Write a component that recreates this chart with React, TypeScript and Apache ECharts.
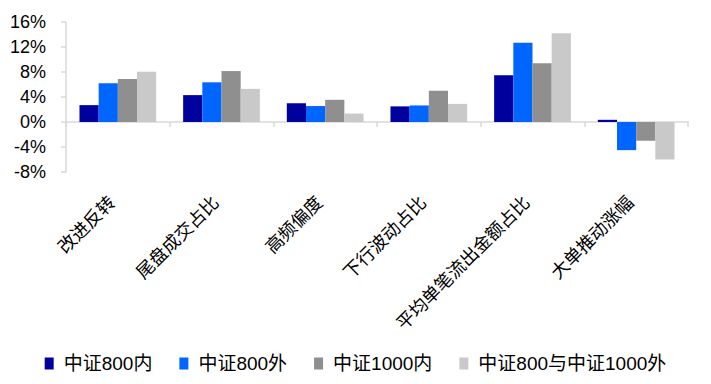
import React, { useEffect, useRef } from "react";
import * as echarts from "echarts";

const categories = ["改进反转", "尾盘成交占比", "高频偏度", "下行波动占比", "平均单笔流出金额占比", "大单推动涨幅"];
const seriesNames = ["中证800内", "中证800外", "中证1000内", "中证800与中证1000外"];
const csi800In = [2.7, 4.3, 3.0, 2.5, 7.5, 0.35];
const csi800Out = [6.2, 6.35, 2.55, 2.65, 12.7, -4.5];
const csi1000In = [6.9, 8.15, 3.55, 5.0, 9.4, -3.0];
const bothOut = [8.05, 5.3, 1.35, 2.9, 14.2, -6.0];
const colors = ["#00009C", "#0066FF", "#8F8F8F", "#C9C9C9"];
const yMin = -8;
const yMax = 16;
const yStep = 4;

export default function App() {
  const ref = useRef<HTMLDivElement>(null);
  useEffect(() => {
    document.body.style.margin = "0";
    const chart = echarts.init(ref.current!, null, { renderer: "svg" });
    const values = [csi800In, csi800Out, csi1000In, bothOut];
    chart.setOption({
      animation: false,
      backgroundColor: "#ffffff",
      color: colors,
      grid: { left: 66, right: 23, top: 22, bottom: 212, containLabel: false },
      legend: {
        bottom: 6,
        left: "center",
        icon: "rect",
        itemWidth: 9,
        itemHeight: 12,
        itemGap: 27,
        textStyle: {
          fontSize: 19,
          color: "#000",
          fontFamily: "Liberation Sans, Noto Sans CJK SC, sans-serif",
          padding: [0, 0, 0, 5],
        },
        data: seriesNames,
      },
      xAxis: {
        type: "category",
        data: categories,
        axisLine: { onZero: true, lineStyle: { color: "#D9D9D9", width: 1.5 } },
        axisTick: { show: true, length: 5, lineStyle: { color: "#D9D9D9", width: 1.5 } },
        axisLabel: {
          rotate: 45,
          margin: 19,
          padding: [0, 10, 0, 0],
          fontSize: 18,
          color: "#000",
          fontFamily: "Noto Sans CJK SC, sans-serif",
          interval: 0,
        },
      },
      yAxis: {
        type: "value",
        min: yMin,
        max: yMax,
        interval: yStep,
        splitLine: { show: false },
        axisLine: { show: true, lineStyle: { color: "#D9D9D9", width: 1.5 } },
        axisTick: { show: true, length: 5, lineStyle: { color: "#D9D9D9", width: 1.5 } },
        axisLabel: {
          formatter: "{value}%",
          margin: 20,
          fontSize: 18,
          color: "#000",
          fontFamily: "Liberation Sans, Arial, sans-serif",
        },
      },
      series: seriesNames.map((name, i) => ({
        name,
        type: "bar",
        data: values[i],
        barGap: "0%",
        barCategoryGap: "26%",
        itemStyle: { color: colors[i] },
      })),
    });
    return () => chart.dispose();
  }, []);
  return <div ref={ref} style={{ width: 711, height: 384, position: "absolute", left: 0, top: 0 }} />;
}
